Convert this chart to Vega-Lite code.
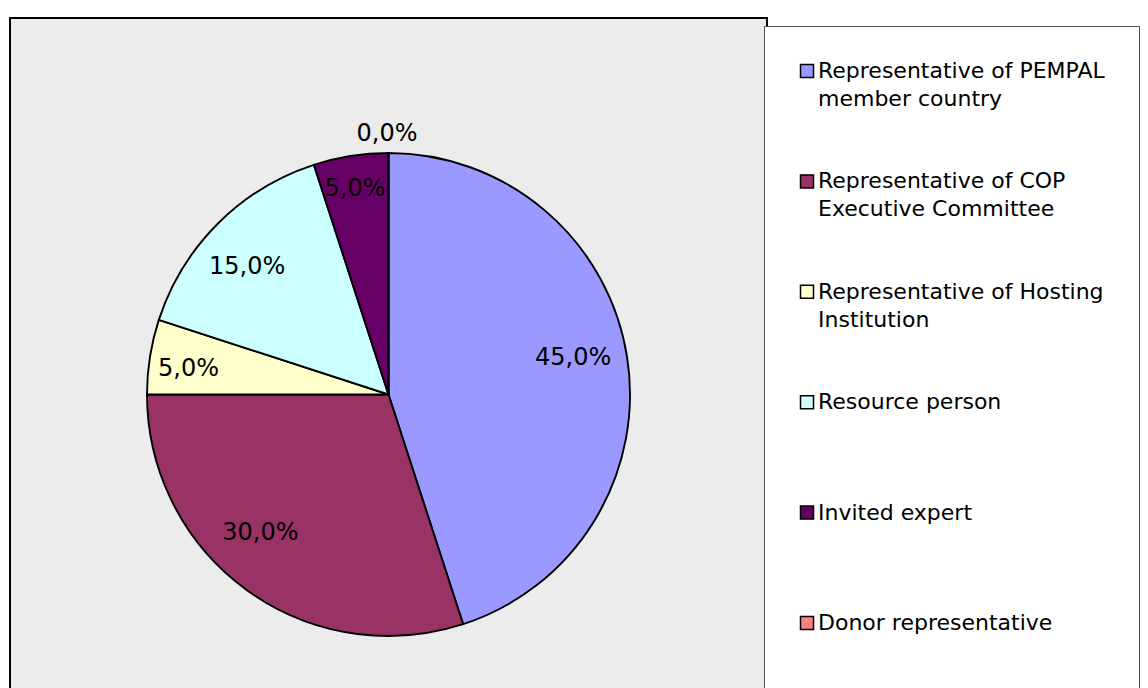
{
  "$schema": "https://vega.github.io/schema/vega-lite/v6.json",
  "width": 757,
  "height": 753,
  "autosize": "none",
  "padding": {"left": 10, "top": 18, "right": 381, "bottom": 0},
  "background": "white",
  "view": {"stroke": "black", "strokeWidth": 2, "fill": "#ececec"},
  "config": {
    "locale": {"number": {"decimal": ",", "thousands": ".", "grouping": [3], "currency": ["", " €"]}},
    "style": {"guide-label": {"lineHeight": 28}},
    "text": {"font": "DejaVu Sans", "fontSize": 24, "color": "black"}
  },
  "data": {
    "values": [
      {"idx": 1, "cat": "Representative of PEMPAL member country", "share": 0.45},
      {"idx": 2, "cat": "Representative of COP Executive Committee", "share": 0.30},
      {"idx": 3, "cat": "Representative of Hosting Institution", "share": 0.05},
      {"idx": 4, "cat": "Resource person", "share": 0.15},
      {"idx": 5, "cat": "Invited expert", "share": 0.05},
      {"idx": 6, "cat": "Donor representative", "share": 0.0}
    ]
  },
  "encoding": {
    "theta": {"field": "share", "type": "quantitative", "stack": true},
    "order": {"field": "idx", "type": "quantitative"},
    "text": {"field": "share", "type": "quantitative", "format": ".1%"}
  },
  "layer": [
    {
      "mark": {"type": "arc", "radius": 241.5, "stroke": "black", "strokeWidth": 1.9},
      "encoding": {
        "text": null,
        "color": {
          "field": "cat",
          "type": "nominal",
          "scale": {
            "domain": ["Representative of PEMPAL member country", "Representative of COP Executive Committee", "Representative of Hosting Institution", "Resource person", "Invited expert", "Donor representative"],
            "range": ["#9999ff", "#993366", "#ffffcc", "#ccffff", "#660066", "#ff8080"]
          },
          "legend": {
            "title": null,
            "orient": "none",
            "legendX": 754,
            "legendY": 8,
            "padding": 34,
            "fillColor": "white",
            "strokeColor": "#505050",
            "symbolType": "square",
            "symbolSize": 169,
            "symbolOffset": -2,
            "symbolStrokeColor": "black",
            "symbolStrokeWidth": 1.5,
            "symbolOpacity": 1,
            "labelFont": "DejaVu Sans",
            "labelFontSize": 22,
            "labelColor": "black",
            "labelLimit": 500,
            "labelOffset": 0,
            "labelBaseline": "middle",
            "rowPadding": 60.4,
            "labelExpr": "datum.label == 'Representative of PEMPAL member country' ? ['Representative of PEMPAL', 'member country'] : datum.label == 'Representative of COP Executive Committee' ? ['Representative of COP', 'Executive Committee'] : datum.label == 'Representative of Hosting Institution' ? ['Representative of Hosting', 'Institution'] : [datum.label, '']"
          }
        }
      }
    },
    {
      "mark": {"type": "text", "radius": 188, "dx": -1, "dy": -7},
      "encoding": {"opacity": {"condition": {"test": "datum.idx == 1", "value": 1}, "value": 0}}
    },
    {
      "mark": {"type": "text", "radius": 189, "dx": -17, "dy": -14},
      "encoding": {"opacity": {"condition": {"test": "datum.idx == 2", "value": 1}, "value": 0}}
    },
    {
      "mark": {"type": "text", "radius": 201, "dx": -1.5, "dy": 6},
      "encoding": {"opacity": {"condition": {"test": "datum.idx == 3", "value": 1}, "value": 0}}
    },
    {
      "mark": {"type": "text", "radius": 190, "dx": -7, "dy": 7},
      "encoding": {"opacity": {"condition": {"test": "datum.idx == 4", "value": 1}, "value": 0}}
    },
    {
      "mark": {"type": "text", "radius": 207.7, "dx": -1},
      "encoding": {"opacity": {"condition": {"test": "datum.idx == 5", "value": 1}, "value": 0}}
    },
    {
      "mark": {"type": "text", "radius": 261, "dx": -1.5},
      "encoding": {"opacity": {"condition": {"test": "datum.idx == 6", "value": 1}, "value": 0}}
    }
  ]
}
